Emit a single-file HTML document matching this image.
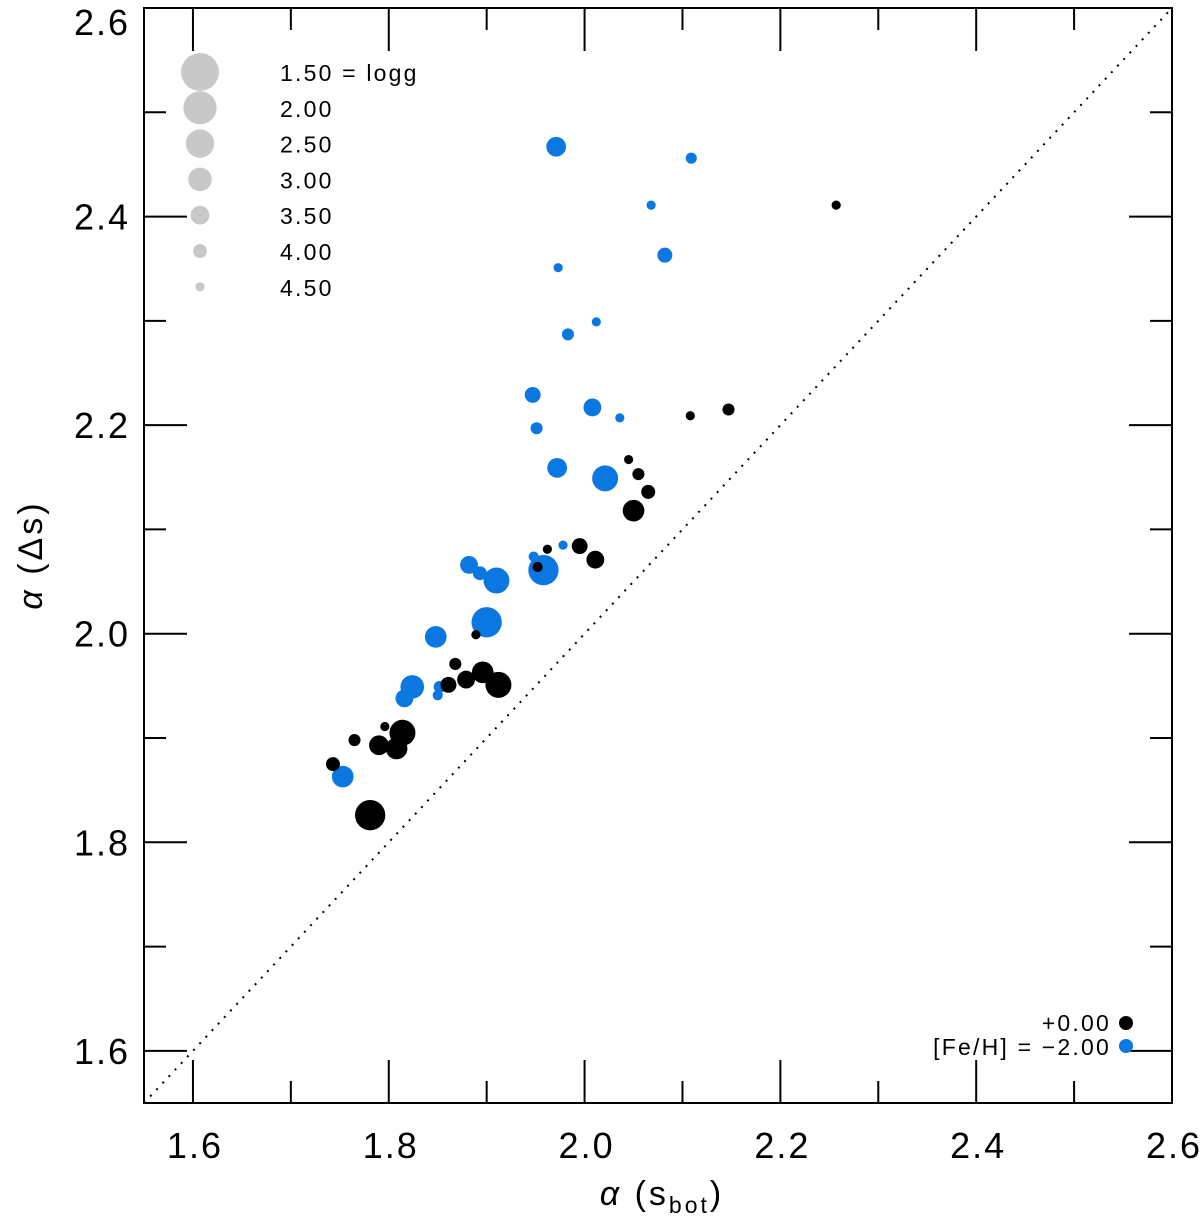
<!DOCTYPE html>
<html><head><meta charset="utf-8"><style>
html,body{margin:0;padding:0;background:#fff}
svg text{font-family:"Liberation Sans",sans-serif;fill:#000}
</style></head><body>
<svg id="chart" width="1200" height="1215" viewBox="0 0 1200 1215" xmlns="http://www.w3.org/2000/svg">
<g id="axes"></g>
<g id="marks"></g>
<g id="legend"></g>
<text x="42" y="555" font-size="34" letter-spacing="3" text-anchor="middle" transform="rotate(-90 42 555)"><tspan font-style="italic">α</tspan> (Δs)</text>
<text x="662" y="1205" font-size="34" letter-spacing="3" text-anchor="middle"><tspan font-style="italic">α</tspan> (s<tspan font-size="23" dy="8">bot</tspan><tspan dy="-8">)</tspan></text>
</svg>
<script>
const blueX=[1.971,2.109,2.068,2.082,1.973,1.983,2.012,1.947,2.008,2.036,1.951,1.972,2.021,1.978,1.948,1.958,1.882,1.893,1.910,1.900,1.848,1.824,1.816,1.852,1.850,1.753];
const blueY=[2.467,2.456,2.411,2.363,2.351,2.287,2.299,2.229,2.217,2.207,2.197,2.159,2.149,2.085,2.074,2.061,2.066,2.058,2.051,2.011,1.997,1.949,1.938,1.949,1.941,1.863];
const blueG=[3.4,4.3,4.5,3.9,4.5,4.2,4.5,3.8,3.6,4.5,4.2,3.4,2.75,4.5,4.4,2.3,3.6,4.0,2.75,2.3,3.2,3.0,3.6,4.2,4.4,3.2];
const blackX=[2.257,2.108,2.147,2.045,2.055,2.065,2.050,1.962,1.995,2.011,1.952,1.889,1.868,1.896,1.879,1.861,1.912,1.796,1.814,1.790,1.808,1.765,1.743,1.781];
const blackY=[2.411,2.209,2.215,2.167,2.153,2.136,2.118,2.081,2.084,2.071,2.064,1.999,1.971,1.963,1.956,1.951,1.951,1.911,1.905,1.893,1.890,1.898,1.875,1.826];
const blackG=[4.5,4.5,4.2,4.5,4.2,4.0,3.2,4.5,3.8,3.6,4.4,4.5,4.2,3.2,3.6,3.8,2.75,4.5,2.75,3.4,3.2,4.2,4.0,2.3];
const xTicks=[1.6,1.8,2.0,2.2,2.4,2.6];
const yTicks=[1.6,1.8,2.0,2.2,2.4,2.6];
const legendG=[1.5,2.0,2.5,3.0,3.5,4.0,4.5];
const legendLabels=["1.50 = logg","2.00","2.50","3.00","3.50","4.00","4.50"];

const L=144,R=1172,T=8,B=1103,X0=1.55,X1=2.6,Y0=1.55,Y1=2.6;
const sx=v=>L+(v-X0)/(X1-X0)*(R-L);
const sy=v=>B-(v-Y0)/(Y1-Y0)*(B-T);
const rad=g=>19-4.8*(g-1.5);
const NS="http://www.w3.org/2000/svg";
function mk(tag,attrs,parent){const e=document.createElementNS(NS,tag);for(const k in attrs)e.setAttribute(k,attrs[k]);parent.appendChild(e);return e;}
const axes=document.getElementById('axes');
const frame=mk('rect',{x:L,y:T,width:R-L,height:B-T,fill:'none',stroke:'#000','stroke-width':2},axes);


const diag=mk('line',{x1:sx(1.55),y1:sy(1.55),x2:sx(2.6),y2:sy(2.6),stroke:'#000','stroke-width':2,'stroke-dasharray':'2 7'},axes);


for(let i=0;i<=10;i++){
  const v=1.6+i*0.1; const major=i%2===0; const len=major?43:22;
  const px=sx(v), py=sy(v);
  const t1=mk('path',{d:`M${px},${B}V${B-len}M${px},${T}V${T+len}M${L},${py}H${L+len}M${R},${py}H${R-len}`,stroke:'#000','stroke-width':2,fill:'none'},axes);
  
  
}
xTicks.forEach(v=>{const t=mk('text',{x:sx(v)+2,y:1158,'font-size':36,'letter-spacing':2,'text-anchor':'middle'},axes);t.textContent=v.toFixed(1);
  
  });
yTicks.forEach(v=>{const t=mk('text',{x:130,y:sy(v)+(v===2.6?27:13),'font-size':36,'letter-spacing':2,'text-anchor':'end'},axes);t.textContent=v.toFixed(1);
  
  });
const marks=document.getElementById('marks');
function plot(xs,ys,gs,col,name){xs.forEach((x,i)=>{const c=mk('circle',{cx:sx(x),cy:sy(ys[i]),r:rad(gs[i]),fill:col},marks);
  
  });}
plot(blueX,blueY,blueG,'#0a78e0','point-feh-minus2');
plot(blackX,blackY,blackG,'#000','point-feh-0');
const leg=document.getElementById('legend');
legendG.forEach((g,i)=>{const y=72+i*35.8;
  const c=mk('circle',{cx:200,cy:y,r:rad(g),fill:'#c8c8c8'},leg);
  
  
  const t=mk('text',{x:280,y:y+9,'font-size':23,'letter-spacing':2.2},leg);t.textContent=legendLabels[i];
  
  });
const l1=mk('text',{x:1111,y:1031,'font-size':23,'letter-spacing':2.2,'text-anchor':'end'},leg);l1.textContent='+0.00';


const l2=mk('text',{x:1111,y:1055,'font-size':23,'letter-spacing':2.2,'text-anchor':'end'},leg);l2.textContent='[Fe/H] = −2.00';


const d1=mk('circle',{cx:1126,cy:1023,r:7,fill:'#000'},leg);


const d2=mk('circle',{cx:1126,cy:1046,r:7,fill:'#0a78e0'},leg);


</script>
</body></html>
